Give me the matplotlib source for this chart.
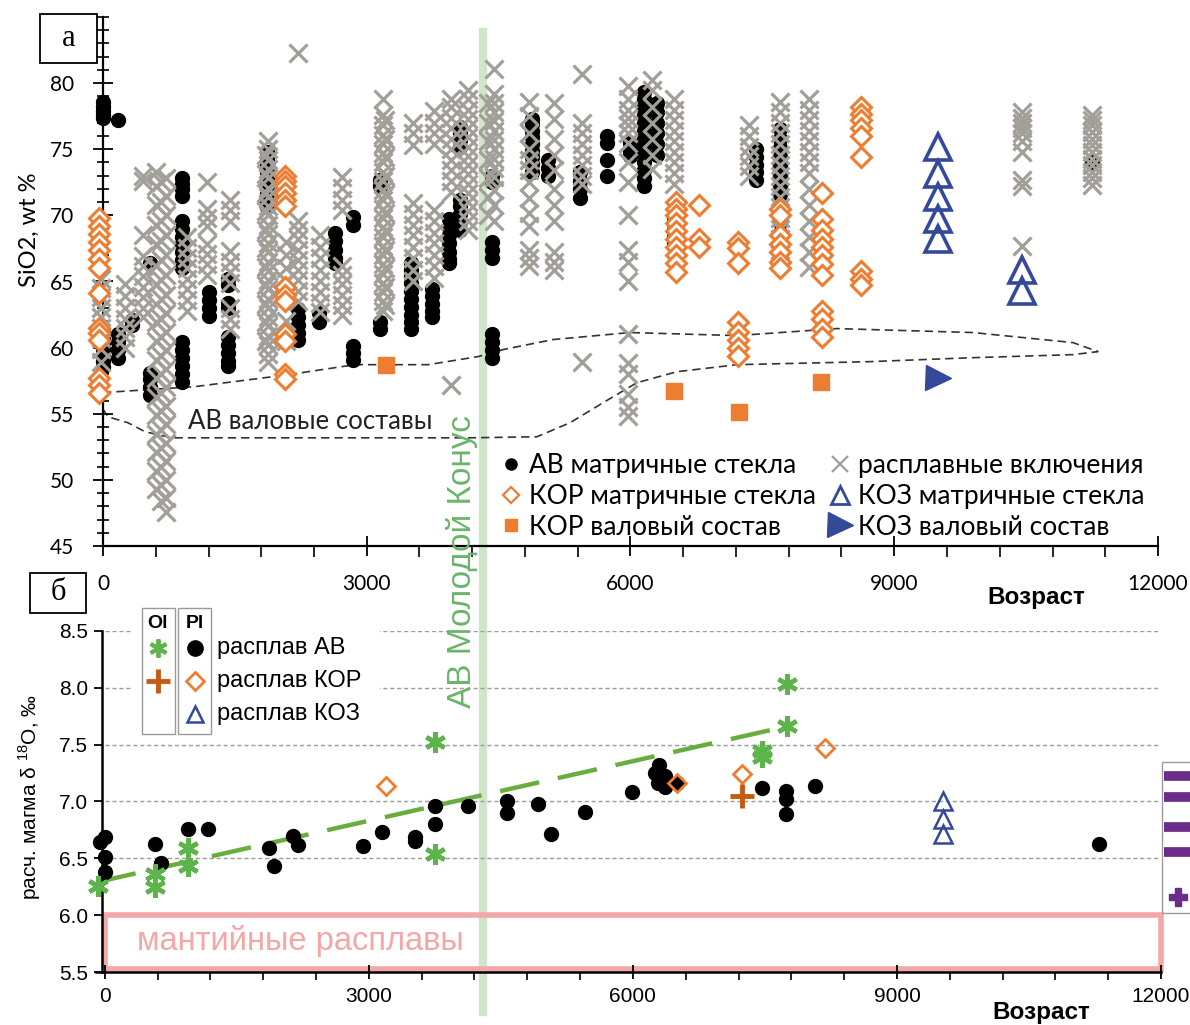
import matplotlib
matplotlib.use("Agg")
import matplotlib.pyplot as plt
from matplotlib.lines import Line2D
from matplotlib.patches import Rectangle

plt.rcParams['font.family'] = ['Lato', 'DejaVu Sans']
plt.rcParams['axes.unicode_minus'] = False
plt.rcParams['mathtext.fontset'] = 'custom'
plt.rcParams['mathtext.rm'] = 'Liberation Sans'

# ---- panel a: SiO2 vs age (age, [SiO2 values]) ----
ab_glass = [
    (0, [78.6, 78.2, 77.9, 77.6, 77.4, 61.3, 60.8, 60.3, 59.9, 59.4, 59.0, 58.5]),
    (170, [77.2, 61.0, 60.4, 59.8, 59.2]),
    (330, [62.1, 61.7]),
    (530, [66.4, 58.1, 57.6, 57.0, 56.4]),
    (900, [72.8, 72.4, 72.0, 71.5, 69.6, 69.0, 68.4, 67.8, 67.2, 66.6, 66.0,
           60.4, 59.8, 59.2, 58.6, 58.0, 57.4]),
    (1200, [64.2, 63.6, 63.0, 62.4]),
    (1420, [65.2, 64.7, 63.4, 63.0, 60.8, 60.2, 59.6, 59.0, 58.6]),
    (1860, [74.8, 74.3, 73.8, 73.3, 72.8, 72.2, 71.6, 71.0, 70.6]),
    (2220, [62.9, 62.3, 61.7, 61.1, 60.6]),
    (2460, [62.6, 61.9]),
    (2640, [68.7, 68.1, 67.4, 66.8, 66.4]),
    (2840, [69.9, 69.3, 60.1, 59.6, 59.1]),
    (3150, [72.7, 72.2, 61.9, 61.4]),
    (3500, [66.4, 65.9, 65.4, 64.9, 64.3, 63.7, 63.1, 62.5, 61.9, 61.4]),
    (3740, [64.4, 63.9, 63.3, 62.8, 62.3]),
    (3940, [69.7, 69.1, 68.5, 67.9, 67.2, 66.7, 66.4]),
    (4060, [76.7, 76.2, 75.7, 75.2, 71.2, 70.7, 70.1, 69.5, 68.9]),
    (4420, [73.0, 72.5, 68.0, 67.4, 66.8, 61.0, 60.4, 59.8, 59.2]),
    (4880, [77.3, 76.9, 76.4, 75.9, 75.4, 74.9, 74.4, 73.9, 73.3]),
    (5060, [74.2, 73.6, 73.0]),
    (5420, [73.3, 72.6, 72.0, 71.3]),
    (5730, [76.0, 75.5, 74.2, 73.0]),
    (6000, [75.5, 74.9, 74.5]),
    (6150, [79.3, 78.8, 78.2, 77.6, 77.0, 76.4, 75.8, 75.2, 74.6, 74.0, 73.4, 72.8, 72.2]),
    (6300, [78.5, 77.8, 77.0, 76.2, 75.4, 74.6]),
    (6500, [69.9, 69.4, 68.9, 68.4, 68.0]),
    (7430, [75.0, 74.4, 73.8, 73.3, 72.7]),
    (7700, [76.5, 75.8, 75.1, 74.4, 73.7, 73.0, 72.3, 71.6, 70.9, 70.2, 69.5, 68.7]),
    (11250, [74.0]),
]

melt_incl = [
    (-20, [65.2, 64.5, 63.8, 63.0, 62.3, 61.5, 60.7, 59.9, 58.9]),
    (250, [64.8, 63.9, 63.0, 62.2, 61.5, 60.8, 60.0]),
    (450, [73.0, 72.6, 68.5, 66.9, 66.2, 65.4, 64.6, 63.8, 63.0, 62.3]),
    (600, [73.3, 72.2, 70.8, 69.3, 67.8, 66.2, 64.8, 63.3, 61.9, 60.5, 59.1,
           57.7, 56.3, 54.9, 53.5, 52.1, 50.7, 49.3]),
    (660, [72.5, 71.0, 69.6, 68.1, 66.6, 65.1, 63.7, 62.2, 60.8, 59.4, 58.0,
           56.6, 55.2, 53.8, 52.4, 51.0, 49.6, 48.4]),
    (720, [72.8, 71.5, 70.0, 68.5, 67.0, 65.5, 64.0, 62.6, 61.2, 59.8, 58.4,
           57.0, 55.6, 54.2, 52.8, 51.4, 50.0, 48.6, 47.6]),
    (950, [68.4, 67.5, 66.8, 66.0, 65.2, 64.4, 63.6, 62.8]),
    (1180, [72.5, 70.5, 69.8, 69.2, 67.8, 67.1, 66.3, 65.5]),
    (1450, [71.2, 70.4, 69.6, 67.3, 66.5, 65.7, 64.9, 63.0, 62.2, 61.4]),
    (1880, [75.6, 75.0, 74.2, 73.5, 72.8, 72.1, 71.4, 70.7, 70.0, 69.3, 68.6,
            67.9, 67.2, 66.5, 65.8, 65.1, 64.4, 63.7, 63.0, 62.3, 61.6, 60.9,
            60.2, 59.5, 58.9]),
    (1850, [74.6, 73.1, 71.7, 70.3, 68.9, 67.5, 66.1, 64.7, 63.3, 61.9, 60.5]),
    (2080, [68.0, 67.0, 66.0, 65.0, 62.0, 60.5]),
    (2220, [82.3, 69.6, 68.9, 68.2, 67.4, 66.6, 65.9, 65.1, 64.3, 63.5]),
    (2470, [68.5, 67.6, 66.8, 65.9, 65.0, 64.2, 63.4, 62.7]),
    (2720, [72.9, 72.1, 71.2, 70.4, 66.2, 65.5, 64.8, 64.0, 63.2, 62.5]),
    (3190, [78.8, 77.6, 76.8, 76.1, 75.4, 74.7, 74.0, 73.3, 72.6, 71.9, 71.2,
            70.5, 69.8, 69.1, 68.4, 67.7, 67.0, 66.3, 65.6, 64.9, 64.2, 63.5, 62.8]),
    (3210, [77.2, 75.8, 74.4, 73.0, 71.6, 70.2, 68.8, 67.4, 66.0, 64.6, 63.2]),
    (3530, [77.0, 76.2, 75.3, 70.9, 70.1, 69.3, 68.5, 67.6, 66.8, 65.9, 65.0]),
    (3760, [77.9, 77.0, 76.2, 75.4, 70.4, 69.6, 68.7, 67.9, 67.0, 66.2, 65.3]),
    (3960, [78.8, 78.2, 77.4, 76.6, 75.8, 75.0, 74.2, 73.4, 72.6, 71.8, 57.2]),
    (4150, [79.5, 78.8, 78.0, 77.3, 76.6, 75.9, 75.2, 74.5, 73.8, 73.1, 72.4,
            71.7, 71.0, 70.3, 69.6, 68.9]),
    (4380, [78.5, 77.0, 75.6, 74.2, 72.8, 71.4, 70.0]),
    (4450, [81.1, 79.2, 78.5, 77.8, 77.1, 76.4, 75.7, 75.0, 74.3, 73.6, 72.9,
            71.9, 70.8, 69.6]),
    (4850, [78.6, 77.5, 76.2, 75.0, 74.2, 73.4, 72.5, 71.3, 70.2, 69.2, 67.4, 66.8, 66.2]),
    (5130, [78.5, 77.3, 75.8, 74.6, 73.4, 72.0, 70.8, 69.6, 67.2, 66.5, 65.9]),
    (5450, [80.7, 77.0, 76.2, 75.4, 74.6, 73.8, 73.0, 72.4, 58.9]),
    (5970, [79.8, 78.8, 78.0, 77.4, 76.8, 76.2, 75.5, 74.0, 72.5, 70.0, 67.4,
            66.5, 65.0, 61.0, 58.8, 58.0, 56.5, 55.5, 54.8]),
    (6250, [80.2, 79.5, 78.2, 77.0, 75.8, 74.6, 73.5]),
    (6500, [78.8, 78.0, 77.2, 76.4, 75.6, 74.8, 74.0, 73.2, 72.4]),
    (7350, [76.8, 76.0, 75.2, 74.5, 73.7, 73.0]),
    (7700, [78.6, 77.8, 77.0, 76.2, 75.4, 74.6, 73.8, 73.0, 72.2, 71.4, 70.6,
            69.8, 69.0, 68.2, 67.4]),
    (8030, [78.8, 78.0, 77.2, 76.4, 75.6, 74.8, 74.0, 73.2, 72.0, 70.8, 69.6,
            68.4, 67.2, 66.1]),
    (10450, [77.8, 77.4, 77.0, 76.6, 76.2, 75.6, 74.8, 72.7, 72.2, 67.7]),
    (11250, [77.6, 77.2, 76.8, 76.3, 75.8, 75.3, 74.8, 74.3, 73.8, 73.3, 72.8, 72.3]),
]

kor_glass = [
    (-40, [69.8, 69.2, 68.6, 68.0, 67.4, 66.7, 66.0, 64.1, 61.5, 61.1, 60.6,
           57.7, 57.2, 56.6]),
    (2070, [73.0, 72.6, 72.2, 71.7, 71.2, 70.7, 64.6, 64.0, 63.5, 61.0, 60.5,
            58.0, 57.6]),
    (6520, [71.0, 70.5, 70.0, 69.4, 68.8, 68.2, 67.6, 67.0, 66.4, 65.7]),
    (6780, [70.8, 68.2, 67.6]),
    (7220, [68.0, 67.5, 66.4, 61.9, 61.2, 60.6, 60.0, 59.4]),
    (7700, [70.5, 70.0, 68.5, 67.8, 67.2, 66.5, 66.0]),
    (8180, [71.7, 69.7, 68.9, 68.2, 67.6, 67.0, 66.3, 65.5, 62.8, 62.2, 61.4, 60.8]),
    (8620, [78.2, 77.7, 77.2, 76.6, 76.0, 74.4, 65.8, 65.2, 64.7]),
]

kor_bulk_age = [3220, 6490, 7230, 8170]
kor_bulk_sio2 = [58.7, 56.7, 55.1, 57.4]

koz_glass = [
    (9500, [75.2, 73.1, 71.4, 69.7, 68.2]),
    (10450, [65.9, 64.3]),
]
koz_bulk_age = [9500]
koz_bulk_sio2 = [57.7]

# outline of the AB bulk-rock field (closed dashed contour)
field_age = [0, 1046, 2104, 2866, 3697, 4265, 4550, 5118, 5994, 7211, 8349,
             9895, 11033, 11317, 11033, 9895, 8724, 7211, 6529, 6074, 5687,
             5312, 4936, 4174, 2241, 785, 478, 284, 57, -34, 0]
field_sio2 = [56.6, 57.05, 57.95, 58.71, 58.71, 59.32, 59.85, 60.61, 61.14,
              60.91, 61.44, 61.14, 60.38, 59.70, 59.47, 59.24, 58.94, 58.71,
              58.18, 57.35, 55.83, 54.32, 53.26, 53.18, 53.18, 53.18, 53.64,
              54.32, 54.77, 55.7, 56.6]

# ---- panel b: d18O of melt vs age ----
pl_ab_age = [-50, 0, 0, 0, 570, 640, 950, 1170, 1870, 1920, 2140, 2200, 2930,
             3150, 3520, 3520, 3750, 3750, 4130, 4570, 4570, 4925, 5075, 5455,
             5990, 6296, 6250, 6370, 6288, 6364, 6497, 7462, 7740, 7740, 7740,
             8068, 11300]
pl_ab_d18o = [6.64, 6.69, 6.51, 6.38, 6.63, 6.46, 6.76, 6.76, 6.59, 6.43, 6.70,
              6.62, 6.61, 6.73, 6.69, 6.65, 6.96, 6.80, 6.96, 7.00, 6.90, 6.98,
              6.71, 6.91, 7.08, 7.32, 7.25, 7.22, 7.16, 7.13, 7.16, 7.12, 7.09,
              7.02, 6.89, 7.14, 6.63]

ol_ab_age = [-80, 570, 570, 950, 950, 3750, 3750, 7462, 7462, 7746, 7746]
ol_ab_d18o = [6.26, 6.25, 6.36, 6.59, 6.43, 7.52, 6.54, 7.44, 7.39, 8.03, 7.66]

pl_kor_age = [3200, 6497, 7243, 8182]
pl_kor_d18o = [7.14, 7.16, 7.24, 7.47]

ol_kor_age = [7243]
ol_kor_d18o = [7.05]

pl_koz_age = [9520, 9520, 9520]
pl_koz_d18o = [7.00, 6.85, 6.71]

trend_age = [-94, 7746]
trend_d18o = [6.29, 7.66]

side_dash_d18o = [7.22, 7.04, 6.78, 6.56]
side_plus_d18o = [6.16]
side_age = 12190

BLACK = '#000000'
GREY = '#a29e98'
ORANGE = '#ed7d31'
BLUE = '#34499a'
GREEN_STAR = '#5db44a'
GREEN_LINE = '#6aad3f'
BROWN = '#c55a11'
PURPLE = '#6b2c8c'
PINK = '#f4a7a7'


def expand(cols):
    xs, ys = [], []
    for age, vals in cols:
        xs += [age] * len(vals)
        ys += vals
    return xs, ys


W, H = 1190, 1025
fig = plt.figure(figsize=(W / 100, H / 100), dpi=100)

# ------------------------------------------------------------ panel a
ax1 = fig.add_axes([103 / W, 1 - 546 / H, (1158 - 103) / W, (546 - 17) / H])
ax1.set_facecolor('none')
ax1.set_xlim(0, 12000)
ax1.set_ylim(45, 85)
ax1.spines['top'].set_visible(False)
ax1.spines['right'].set_visible(False)
ax1.set_xticks([0, 3000, 6000, 9000, 12000])
ax1.set_xticks(range(0, 12001, 600), minor=True)
ax1.set_yticks([45, 50, 55, 60, 65, 70, 75, 80])
ax1.set_yticks(range(45, 86), minor=True)
ax1.tick_params(axis='x', which='major', direction='inout', length=14, width=1.3,
                labelsize=15, pad=13)
ax1.tick_params(axis='x', which='minor', direction='out', length=8, width=1.2)
ax1.tick_params(axis='y', which='major', direction='inout', length=14, width=1.3,
                labelsize=15, pad=14)
ax1.tick_params(axis='y', which='minor', direction='inout', length=8, width=1.2)
for s in ['left', 'bottom']:
    ax1.spines[s].set_linewidth(1.6)

ax1.plot(field_age, field_sio2, color='#333333', lw=1.2, ls=(0, (5, 3)), zorder=1)

x, y = expand(ab_glass)
ax1.plot(x, y, 'o', color=BLACK, ms=10, ls='none', zorder=2, clip_on=False)
x, y = expand(melt_incl)
ax1.plot(x, y, 'x', color=GREY, ms=13, mew=2.3, ls='none', zorder=3, clip_on=False)
x, y = expand(kor_glass)
ax1.plot(x, y, 'D', mfc='white', mec=ORANGE, ms=10, mew=2.2, ls='none', zorder=4,
         clip_on=False)
ax1.plot(kor_bulk_age, kor_bulk_sio2, 's', color=ORANGE, ms=12, ls='none', zorder=4)
x, y = expand(koz_glass)
ax1.plot(x, y, '^', mfc='none', mec=BLUE, ms=19, mew=2.6, ls='none', zorder=4)
ax1.plot(koz_bulk_age, koz_bulk_sio2, '>', color=BLUE, ms=18, ls='none', zorder=4)

ax1.text(2354, 54.4, 'АВ валовые составы', fontsize=18.5, ha='center', va='center',
         color='#222222')
ax1.set_ylabel('SiO2, wt %', fontsize=17)
ax1.yaxis.set_label_coords(-0.06, 0.597)
ax1.text(11170, 41.1, 'Возраст', fontsize=17.5, fontweight='bold', ha='right',
         va='center', family=['Liberation Sans'])

leg_handles = [
    Line2D([], [], marker='o', color=BLACK, ms=8, ls='none'),
    Line2D([], [], marker='D', mfc='white', mec=ORANGE, ms=8, mew=1.6, ls='none'),
    Line2D([], [], marker='s', color=ORANGE, ms=8, ls='none'),
    Line2D([], [], marker='x', color=GREY, ms=12, mew=1.6, ls='none'),
    Line2D([], [], marker='^', mfc='white', mec=BLUE, ms=13, mew=2, ls='none'),
    Line2D([], [], marker='>', color=BLUE, ms=18, ls='none'),
]
leg_labels = ['АВ матричные стекла', 'КОР матричные стекла', 'КОР валовый состав',
              'расплавные включения', 'КОЗ матричные стекла', 'КОЗ валовый состав']
fig.legend(leg_handles, leg_labels, loc='upper left', ncol=2,
           bbox_to_anchor=(500 / W, 1 - 453 / H), frameon=False, fontsize=19,
           handlelength=0.8, handletextpad=0.3, columnspacing=0.5,
           labelspacing=0.22, borderpad=0, borderaxespad=0)

# ------------------------------------------------------------ panel b
ax2 = fig.add_axes([96 / W, 1 - 972 / H, (1161 - 96) / W, (972 - 631) / H])
ax2.set_facecolor('none')
ax2.set_xlim(-100, 12000)
ax2.set_ylim(5.5, 8.5)
ax2.spines['top'].set_visible(False)
ax2.spines['right'].set_visible(False)
ax2.spines['left'].set_position(('data', -30))
for s in ['left', 'bottom']:
    ax2.spines[s].set_linewidth(1.8)
ax2.set_xticks([0, 3000, 6000, 9000, 12000])
ax2.set_xticks(range(0, 12001, 600), minor=True)
ax2.set_yticks([5.5, 6.0, 6.5, 7.0, 7.5, 8.0, 8.5])
ax2.set_yticklabels(['5.5', '6.0', '6.5', '7.0', '7.5', '8.0', '8.5'],
                    family=['Liberation Sans'])
ax2.set_xticklabels(['0', '3000', '6000', '9000', '12000'], family=['Liberation Sans'])
ax2.tick_params(axis='x', which='major', direction='inout', length=10, width=1.3,
                labelsize=15, pad=6)
ax2.tick_params(axis='x', which='minor', direction='out', length=6, width=1.2)
ax2.tick_params(axis='y', which='major', direction='out', length=6, width=1.3,
                labelsize=15, pad=4)

for g in [6.5, 7.0, 7.5, 8.0, 8.5]:
    ax2.plot([0, 12000], [g, g], color='#9c9c9c', lw=1, ls=(0, (3, 2)), zorder=0.5)

ax2.add_patch(Rectangle((0, 5.53), 12000, 0.47, fill=False, ec=PINK, lw=4,
                        zorder=1, clip_on=False))
ax2.text(2218, 5.77, 'мантийные расплавы', fontsize=23.5, color=PINK, ha='center',
         va='center', family=['Liberation Sans'])

ax2.plot(trend_age, trend_d18o, color=GREEN_LINE, lw=3.2, ls=(0, (9, 4.3)), zorder=2,
         clip_on=False)
ax2.plot(pl_ab_age, pl_ab_d18o, 'o', color=BLACK, ms=10, ls='none', zorder=3,
         clip_on=False)
ax2.plot(ol_ab_age, ol_ab_d18o, marker=(6, 2, 0), color=GREEN_STAR, ms=15, mew=3.2,
         ls='none', zorder=4, clip_on=False)
ax2.plot(pl_kor_age, pl_kor_d18o, 'D', mfc='none', mec=ORANGE, ms=9, mew=2,
         ls='none', zorder=4)
ax2.plot(ol_kor_age, ol_kor_d18o, '+', color=BROWN, ms=17, mew=3.5, ls='none', zorder=4)
ax2.plot(pl_koz_age, pl_koz_d18o, '^', mfc='none', mec=BLUE, ms=13, mew=1.8,
         ls='none', zorder=4)

ax2.add_patch(Rectangle((12010, 6.02), 600, 1.33, fill=False, ec='#9a9a9a', lw=1,
                        clip_on=False))
ax2.plot([side_age] * len(side_dash_d18o), side_dash_d18o, '_', color=PURPLE, ms=20,
         mew=7, ls='none', clip_on=False)
ax2.plot([side_age] * len(side_plus_d18o), side_plus_d18o, 'P', color=PURPLE, ms=13,
         ls='none', clip_on=False)

ax2.set_ylabel('расч. магма δ $^{18}$O, ‰', fontsize=15, family=['Liberation Sans'])
ax2.yaxis.set_label_coords(-0.05, 0.513)
ax2.text(11200, 5.145, 'Возраст', fontsize=17.5, fontweight='bold', ha='right',
         va='center', family=['Liberation Sans'])

# legend of panel b (two mineral columns)
fig.add_artist(Rectangle((133 / W, 1 - 737 / H), 247 / W, 132 / H, fc='white',
                         ec='none', transform=fig.transFigure, zorder=2))
for x0 in [142, 178]:
    fig.add_artist(Rectangle((x0 / W, 1 - 734 / H), 33 / W, 126 / H, fill=False,
                             ec='#9a9a9a', lw=1, transform=fig.transFigure, zorder=3))
fig.text(158 / W, 1 - 623 / H, 'Ol', fontsize=14, fontweight='bold', ha='center',
         va='center', family=['Liberation Sans'], zorder=4)
fig.text(195 / W, 1 - 623 / H, 'Pl', fontsize=14, fontweight='bold', ha='center',
         va='center', family=['Liberation Sans'], zorder=4)
leg_b = [
    (158, 648, dict(marker=(6, 2, 0), color=GREEN_STAR, ms=13, mew=2.8)),
    (195, 648, dict(marker='o', color=BLACK, ms=11)),
    (158, 681, dict(marker='+', color=BROWN, ms=17, mew=3.5)),
    (195, 681, dict(marker='D', mfc='white', mec=ORANGE, ms=9, mew=2)),
    (195, 714, dict(marker='^', mfc='white', mec=BLUE, ms=12, mew=1.8)),
]
for lx, ly, kw in leg_b:
    fig.add_artist(Line2D([lx / W], [1 - ly / H], ls='none', transform=fig.transFigure,
                          zorder=4, **kw))
for ly, lab in [(648, 'расплав АВ'), (681, 'расплав КОР'), (714, 'расплав КОЗ')]:
    fig.text(217 / W, 1 - ly / H, lab, fontsize=17, ha='left', va='center',
             family=['Liberation Sans'], zorder=4)

# vertical marker of the young cone across both panels
fig.add_artist(Line2D([483 / W, 483 / W], [1 - 32 / H, 1 - 1012 / H], color='#cfe7c8',
                      lw=6, transform=fig.transFigure, zorder=-1))
fig.text(462 / W, 1 - 562 / H, 'АВ Молодой Конус', rotation=90, fontsize=24,
         color='#6ab56a', ha='center', va='center', family=['Liberation Sans'])

# panel letters
for (bx, by, bw, bh, lab) in [(40, 14, 57, 49, 'а'), (30, 573, 56, 40, 'б')]:
    fig.add_artist(Rectangle((bx / W, 1 - (by + bh) / H), bw / W, bh / H, fill=False,
                             ec='black', lw=1.3, transform=fig.transFigure))
    fig.text((bx + bw / 2) / W, 1 - (by + bh / 2) / H, lab, fontsize=22,
             ha='center', va='center', family=['Liberation Serif'])

fig.savefig('out.png', dpi=100)
